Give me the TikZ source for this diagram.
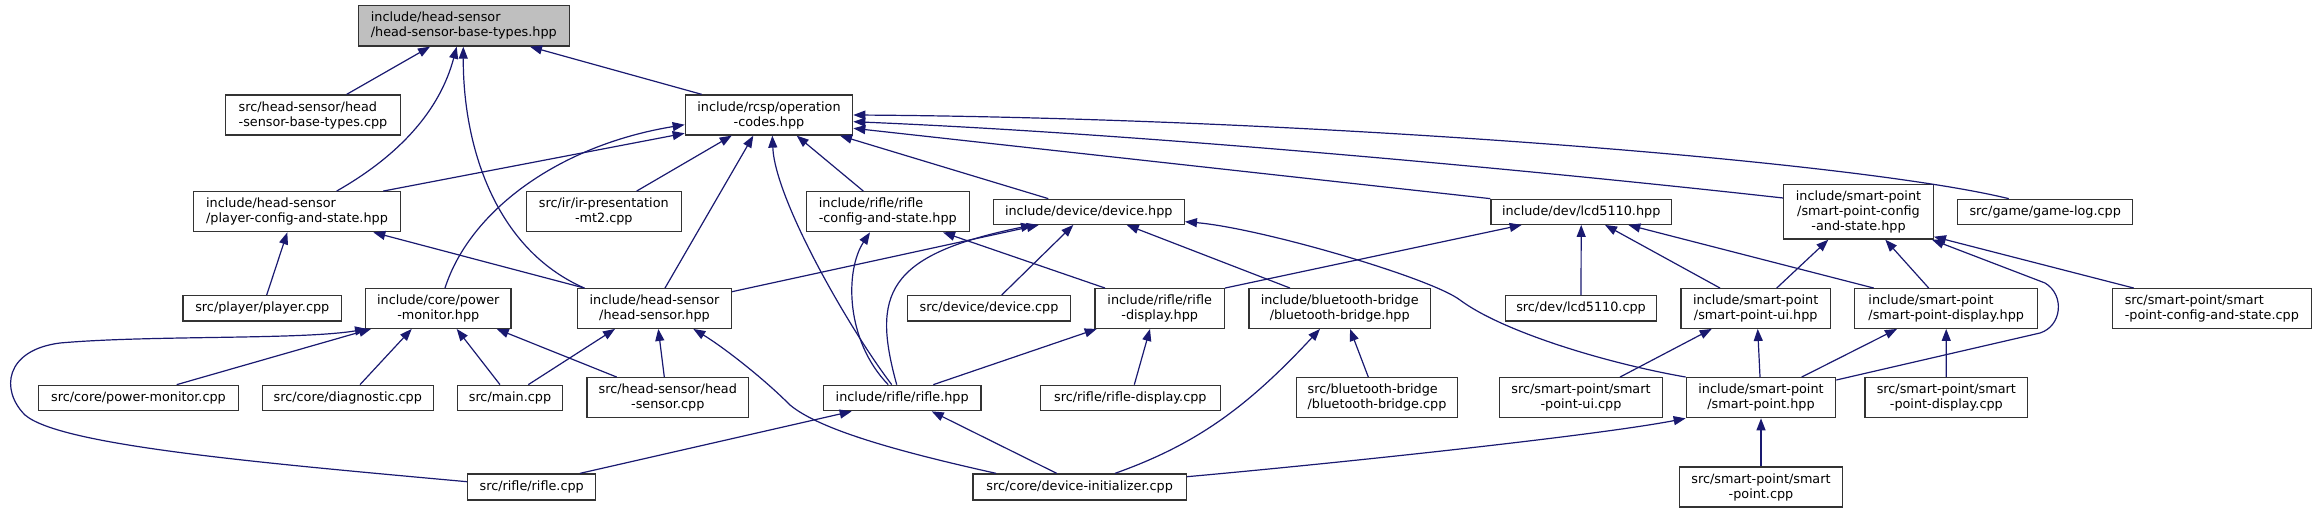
\documentclass[tikz,border=0pt]{standalone}
\usepackage{fontspec}
\newfontfamily\dvs{DejaVu Sans}
\usetikzlibrary{arrows.meta}
\definecolor{edgec}{HTML}{191970}
\definecolor{selfill}{HTML}{BFBFBF}
\begin{document}
\begin{tikzpicture}[x=1pt,y=-1pt,
  box/.style={draw=black!80, line width=1.3pt, inner sep=0pt, font={\dvs\fontsize{12.8}{15}\selectfont}, align=center},
  lbox/.style={box, align=left},
  dep/.style={draw=edgec, line width=1.2pt, -{Triangle[length=12pt,width=9pt]}},
]
\useasboundingbox (0,0) rectangle (2317,513);
% row 0
\node[lbox, fill=selfill, minimum width=211pt, minimum height=40.3pt] (bt) at (463.8,25.9) {include/head-sensor\\/head-sensor-base-types.hpp};
% row 1
\node[lbox, minimum width=174.6pt, minimum height=40pt] (btc) at (313,115) {src/head-sensor/head\\-sensor-base-types.cpp};
\node[box, minimum width=167.4pt, minimum height=40pt] (oc) at (769,115) {include/rcsp/operation\\-codes.hpp};
% row 2
\node[lbox, minimum width=206.6pt, minimum height=40pt] (pcs) at (297,211.7) {include/head-sensor\\/player-config-and-state.hpp};
\node[box, minimum width=155pt, minimum height=40pt] (ir) at (603.8,211.7) {src/ir/ir-presentation\\-mt2.cpp};
\node[lbox, minimum width=163pt, minimum height=40pt] (rcs) at (887.8,211.7) {include/rifle/rifle\\-config-and-state.hpp};
\node[box, minimum width=191pt, minimum height=25pt] (dev) at (1088.8,211.8) {include/device/device.hpp};
\node[box, minimum width=180.3pt, minimum height=25pt] (lcd) at (1581.2,211.8) {include/dev/lcd5110.hpp};
\node[box, minimum width=149.6pt, minimum height=54.7pt] (spcs) at (1858.5,211.7) {include/smart-point\\/smart-point-config\\-and-state.hpp};
\node[box, minimum width=175pt, minimum height=25pt] (gl) at (2045.2,211.8) {src/game/game-log.cpp};
% row 3
\node[box, minimum width=158.7pt, minimum height=25.3pt] (pl) at (262.3,308.3) {src/player/player.cpp};
\node[box, minimum width=145.3pt, minimum height=39.6pt] (pm) at (438.3,308.5) {include/core/power\\-monitor.hpp};
\node[box, minimum width=153.6pt, minimum height=39.6pt] (hs) at (654.5,308.5) {include/head-sensor\\/head-sensor.hpp};
\node[box, minimum width=162.6pt, minimum height=25.3pt] (dc) at (989,308.3) {src/device/device.cpp};
\node[box, minimum width=129.3pt, minimum height=39.6pt] (rd) at (1159.7,308.5) {include/rifle/rifle\\-display.hpp};
\node[box, minimum width=181.3pt, minimum height=39.6pt] (bb) at (1339.7,308.5) {include/bluetooth-bridge\\/bluetooth-bridge.hpp};
\node[box, minimum width=150.6pt, minimum height=25.3pt] (lcdc) at (1581,308.3) {src/dev/lcd5110.cpp};
\node[box, minimum width=149.3pt, minimum height=39.6pt] (spui) at (1755.7,308.5) {include/smart-point\\/smart-point-ui.hpp};
\node[lbox, minimum width=183pt, minimum height=39.6pt] (spd) at (1946.2,308.5) {include/smart-point\\/smart-point-display.hpp};
\node[lbox, minimum width=199pt, minimum height=39.6pt] (spcsc) at (2211.8,308.5) {src/smart-point/smart\\-point-config-and-state.cpp};
% row 4
\node[box, minimum width=200.4pt, minimum height=25.4pt] (pmc) at (138.5,398) {src/core/power-monitor.cpp};
\node[box, minimum width=171pt, minimum height=25.4pt] (diag) at (347.8,398) {src/core/diagnostic.cpp};
\node[box, minimum width=105.4pt, minimum height=25.4pt] (main) at (510,398) {src/main.cpp};
\node[box, minimum width=161.7pt, minimum height=40pt] (hsc) at (667.8,397.7) {src/head-sensor/head\\-sensor.cpp};
\node[box, minimum width=157.7pt, minimum height=25.4pt] (rh) at (902.2,398) {include/rifle/rifle.hpp};
\node[box, minimum width=180pt, minimum height=25.4pt] (rdc) at (1130.3,398) {src/rifle/rifle-display.cpp};
\node[lbox, minimum width=161.4pt, minimum height=40pt] (bbc) at (1377,397.7) {src/bluetooth-bridge\\/bluetooth-bridge.cpp};
\node[box, minimum width=162.6pt, minimum height=40pt] (spuic) at (1581,397.7) {src/smart-point/smart\\-point-ui.cpp};
\node[box, minimum width=149.4pt, minimum height=40pt] (sp) at (1761,397.7) {include/smart-point\\/smart-point.hpp};
\node[box, minimum width=162.7pt, minimum height=40pt] (spdc) at (1946.3,397.7) {src/smart-point/smart\\-point-display.cpp};
% row 5
\node[box, minimum width=128pt, minimum height=26pt] (rc) at (531.7,487) {src/rifle/rifle.cpp};
\node[box, minimum width=213.3pt, minimum height=26pt] (di) at (1079.7,487) {src/core/device-initializer.cpp};
\node[box, minimum width=162.6pt, minimum height=40pt] (spc) at (1761,487) {src/smart-point/smart\\-point.cpp};
% edges to base-types
\draw[dep] ([xshift=33.7pt]btc.north) -- ([xshift=-33.8pt]bt.south);
\draw[dep] ([xshift=39.7pt]pcs.north) .. controls (400,155) and (440,110) .. ([xshift=-7.1pt]bt.south);
\draw[dep] ([xshift=7.3pt]hs.north west) .. controls (495,249) and (463,146) .. ([xshift=-0.5pt]bt.south);
\draw[dep] ([xshift=-67.3pt]oc.north) -- ([xshift=66.2pt]bt.south);
% edges to operation-codes
\draw[dep] ([xshift=86.3pt]pcs.north) -- ([yshift=-18.3pt]oc.west);
\draw[dep] ([xshift=6.7pt]pm.north) .. controls (470,210) and (560,145) .. ([yshift=-9.7pt]oc.west);
\draw[dep] ([xshift=32.9pt]ir.north) -- ([xshift=-37.3pt]oc.south);
\draw[dep] ([xshift=10.5pt]hs.north) -- ([xshift=-15.7pt]oc.south);
\draw[dep] ([xshift=-10.5pt]rh.north) .. controls (850,330) and (775,200) .. ([xshift=3.3pt]oc.south);
\draw[dep] ([xshift=-24.5pt]rcs.north) -- ([xshift=27.7pt]oc.south);
\draw[dep] ([xshift=-40.5pt]dev.north) -- ([xshift=71pt]oc.south);
\draw[dep] (lcd.north west) -- ([yshift=-13.3pt]oc.east);
\draw[dep] ([yshift=13.7pt]spcs.west) .. controls (1550,172) and (1150,134) .. ([yshift=-6.7pt]oc.east);
\draw[dep] ([xshift=-36.5pt]gl.north) .. controls (1850,160) and (1300,118) .. (oc.east);
% edges to player-config-and-state
\draw[dep] ([xshift=4.4pt]pl.north) -- ([xshift=-9.7pt]pcs.south);
\draw[dep] ([xshift=7.3pt]hs.north west) -- ([xshift=76.3pt]pcs.south);
% edges to device.hpp
\draw[dep] ([yshift=16.8pt]hs.east) -- ([xshift=-50pt]dev.south);
\draw[dep] ([xshift=-5.5pt]rh.north) .. controls (872,295) and (885,255) .. ([xshift=-55.8pt]dev.south);
\draw[dep] ([xshift=12.7pt]dc.north) -- ([xshift=-15.5pt]dev.south);
\draw[dep] ([xshift=-49.7pt]bb.north) -- ([xshift=37.9pt]dev.south);
\draw[dep] (sp.north west) .. controls (1600,362) and (1500,330) .. (1460,300) .. controls (1430,277.5) and (1260,228) .. ([yshift=-9.9pt]dev.east);
% edges to rifle-config-and-state
\draw[dep] ([xshift=-54.7pt]rd.north) -- ([xshift=55.2pt]rcs.south);
\draw[dep] ([xshift=-14pt]rh.north) .. controls (845,340) and (845,270) .. ([xshift=-17.8pt]rcs.south);
% edges to lcd5110.hpp
\draw[dep] (rd.north east) -- ([xshift=-59.5pt]lcd.south);
\draw[dep] (lcdc.north) -- (lcd.south);
\draw[dep] ([xshift=-35.7pt]spui.north) -- ([xshift=23.8pt]lcd.south);
\draw[dep] ([xshift=-72.5pt]spd.north) -- ([xshift=47.1pt]lcd.south);
% edges to smart-point-config-and-state.hpp
\draw[dep] ([xshift=21pt]spui.north) -- ([xshift=-30.2pt]spcs.south);
\draw[dep] ([xshift=-17.5pt]spd.north) -- ([xshift=26.8pt]spcs.south);
\draw[dep] ([yshift=17.7pt]sp.east) -- (2040,333) .. controls (2062,326) and (2065,295) .. (2045,283) -- ([xshift=-2pt]spcs.south east);
\draw[dep] ([xshift=-78.1pt]spcsc.north) -- ([yshift=3pt]spcs.south east);
% edges to power-monitor.hpp
\draw[dep] ([xshift=38.2pt]pmc.north) -- ([xshift=6pt]pm.south west);
\draw[dep] ([xshift=12.2pt]diag.north) -- ([xshift=-26.6pt]pm.south);
\draw[dep] ([xshift=-10pt]main.north) -- ([xshift=18.4pt]pm.south);
\draw[dep] ([xshift=-51.1pt]hsc.north) -- ([xshift=58.4pt]pm.south);
\draw[dep] ([yshift=5.3pt]rc.west) .. controls (250,462) and (60,445) .. (25,415) .. controls (0,390) and (5,350) .. (60,343) .. controls (150,335) and (300,340) .. ([xshift=2pt]pm.south west);
% edges to head-sensor.hpp
\draw[dep] ([xshift=18.3pt]main.north) -- ([xshift=-39.5pt]hs.south);
\draw[dep] ([xshift=-3.5pt]hsc.north) -- ([xshift=3.8pt]hs.south);
\draw[dep] ([xshift=23.7pt]di.north west) .. controls (900,452) and (820,430) .. (790,405) .. controls (760,375) and (720,345) .. ([xshift=38.8pt]hs.south);
% edges to rifle-display.hpp
\draw[dep] ([xshift=31.1pt]rh.north) -- ([xshift=-63pt]rd.south);
\draw[dep] ([xshift=4pt]rdc.north) -- ([xshift=-9.7pt]rd.south);
% edges to bluetooth-bridge.hpp
\draw[dep] ([xshift=35.3pt]di.north) .. controls (1196,444.5) and (1247,407.5) .. ([xshift=-19.7pt]bb.south);
\draw[dep] ([xshift=-8.7pt]bbc.north) -- ([xshift=10.3pt]bb.south);
% edges to smart-point-ui.hpp / display / smart-point.hpp
\draw[dep] ([xshift=39pt]spuic.north) -- ([xshift=-44pt]spui.south);
\draw[dep] ([xshift=-1pt]sp.north) -- ([xshift=2pt]spui.south);
\draw[dep] ([xshift=40.7pt]sp.north) -- ([xshift=-49.2pt]spd.south);
\draw[dep] (spdc.north) -- (spd.south);
\draw[dep] (spc.north) -- (sp.south);
\draw[dep] ([yshift=10.3pt]di.east) .. controls (1350,462) and (1600,435) .. (sp.south west);
% edges to rifle.hpp
\draw[dep] ([xshift=48.3pt]rc.north) -- ([xshift=-50.5pt]rh.south);
\draw[dep] ([xshift=-23pt]di.north) -- ([xshift=29.5pt]rh.south);
\end{tikzpicture}
\end{document}
